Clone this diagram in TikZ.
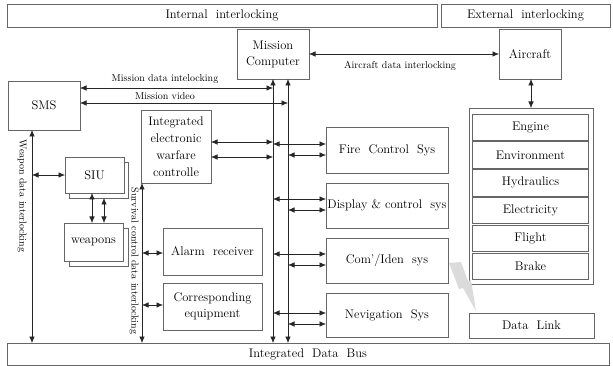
\documentclass[tikz,border=0pt]{standalone}
\usetikzlibrary{arrows.meta,calc}
\begin{document}
\begin{tikzpicture}[x=1pt,y=-1pt,
  box/.style={draw=black!60, line width=0.7pt, fill=white, inner sep=0pt, outer sep=0pt,
    align=center, font=\fontsize{12.5}{16}\selectfont},
  shadowbox/.style={draw=black!60, line width=0.7pt, inner sep=0pt, outer sep=0pt},
  lbl/.style={font=\fontsize{10}{12}\selectfont, inner sep=0pt},
  link/.style={draw=black!85, line width=0.6pt},
  dbl/.style={link, {Latex[length=6.5pt,width=5.5pt]}-{Latex[length=6.5pt,width=5.5pt]}}]

\useasboundingbox (0,0) rectangle (613,366);

% header boxes
\node[box, minimum width=430, minimum height=23] (intl) at (222,15.5) {Internal\ \ interlocking};
\node[box, minimum width=169, minimum height=23] (extl) at (525.5,15.5) {External\ \ interlocking};

% central and external units
\node[box, minimum width=72, minimum height=50] (mc) at (273,54) {Mission\\Computer};
\node[box, minimum width=62, minimum height=50] (ac) at (530,54) {Aircraft};
\node[box, minimum width=72, minimum height=49] (sms) at (44,105.5) {SMS};

% SIU and weapons with stacked outlines
\node[shadowbox, minimum width=59, minimum height=36] (siub) at (98.5,180) {};
\node[box, minimum width=59, minimum height=36] (siu) at (94.5,175) {SIU};
\node[shadowbox, minimum width=59, minimum height=38] (weab) at (98.5,247) {};
\node[box, minimum width=59, minimum height=38] (wea) at (93.5,242) {weapons};

\node[box, minimum width=70, minimum height=73, font=\fontsize{12.5}{17}\selectfont] (ew) at (176,146.5) {Integrated\\electronic\\warfare\\controlle};
\node[box, minimum width=99, minimum height=47] (alarm) at (212.5,251.5) {Alarm\ \ receiver};
\node[box, minimum width=99, minimum height=47] (corr) at (212.5,306.5) {Corresponding\\equipment};

% subsystems on the right of the bus lines
\node[box, minimum width=122, minimum height=46] (fire) at (387,150) {Fire\ \ Control\ \ Sys};
\node[box, minimum width=122, minimum height=45] (disp) at (387,205.5) {Display \& control\ \ sys};
\node[box, minimum width=122, minimum height=45] (com) at (387,260.5) {Com'/Iden\ \ sys};
\node[box, minimum width=122, minimum height=44] (nav) at (387,315) {Nevigation\ \ Sys};

% aircraft systems panel
\node[box, minimum width=124, minimum height=176] (panel) at (531,196) {};
\foreach \i/\t in {0/Engine,1/Environment,2/Hydraulics,3/Electricity,4/Flight,5/Brake}{
  \node[box, minimum width=116, minimum height=26.3] (row\i) at (530.5,{127.2+27.8*\i}) {\t};
}
\node[box, minimum width=125, minimum height=25] (dl) at (531.5,325.5) {Data\ \ Link};

% data bus
\node[box, minimum width=602, minimum height=22] (bus) at (308,354) {Integrated\ \ Data\ \ Bus};

% radio link
\fill[black!14] (449,263) -- (461,262) -- (468,281) -- (471,280) -- (476,311) -- (463,288) -- (459,289) -- cycle;

% x positions of the vertical lines
\coordinate (W) at (32,0);
\coordinate (S) at (142,0);
\coordinate (L1) at (273,0);
\coordinate (L2) at (288,0);

% vertical interlocking lines
\draw[dbl] (sms.south -| W) -- (bus.north -| W);
\draw[dbl] (ew.south -| S) -- (bus.north -| S);
\draw[dbl] (mc.south -| L1) -- (bus.north -| L1);
\draw[dbl] (mc.south -| L2) -- (bus.north -| L2);

% SMS to mission computer
\coordinate (m1) at (273,88);
\coordinate (m2) at (288,103);
\draw[dbl] (sms.east |- m1) -- (m1);
\draw[dbl] (sms.east |- m2) -- (m2);
\node[lbl] (lm1) at (165,79) {Mission\ data\ intelocking};
\node[lbl] (lm2) at (165,96) {Mission\ video};

% mission computer to aircraft
\draw[dbl] (mc.east) -- (ac.west);
\node[lbl] (lac) at (400,66) {Aircraft\ data\ interlocking};
\draw[dbl] (ac.south -| panel.north) -- (panel.north);

% weapon side
\coordinate (w1) at (32,175);
\draw[dbl] (w1) -- (siu.west);
\coordinate (v1) at (92,0);
\coordinate (v2) at (104,0);
\draw[dbl] (siu.south -| v1) -- (wea.north -| v1);
\draw[dbl] (siub.south -| v2) -- (wea.north -| v2);
\node[lbl, rotate=-90] (lw) at (22,196) {Weapon\ data\ interlocking};
\node[lbl, rotate=-90] (ls) at (134,261) {Survival\ control\ data\ interlocking};

% survival side
\coordinate (s1) at (142,253);
\coordinate (s2) at (142,305);
\draw[dbl] (s1) -- (alarm.west |- s1);
\draw[dbl] (s2) -- (corr.west |- s2);

% electronic warfare controller to bus line 1
\coordinate (e1) at (273,142);
\coordinate (e2) at (273,157);
\draw[dbl] (ew.east |- e1) -- (e1);
\draw[dbl] (ew.east |- e2) -- (e2);

% bus lines to subsystems
\foreach \n/\ya/\yb in {fire/144/155, disp/199/210, com/254/265, nav/313/324}{
  \draw[dbl] (273,\ya) -- (\n.west |- 0,\ya);
  \draw[dbl] (288,\yb) -- (\n.west |- 0,\yb);
}
\end{tikzpicture}
\end{document}
